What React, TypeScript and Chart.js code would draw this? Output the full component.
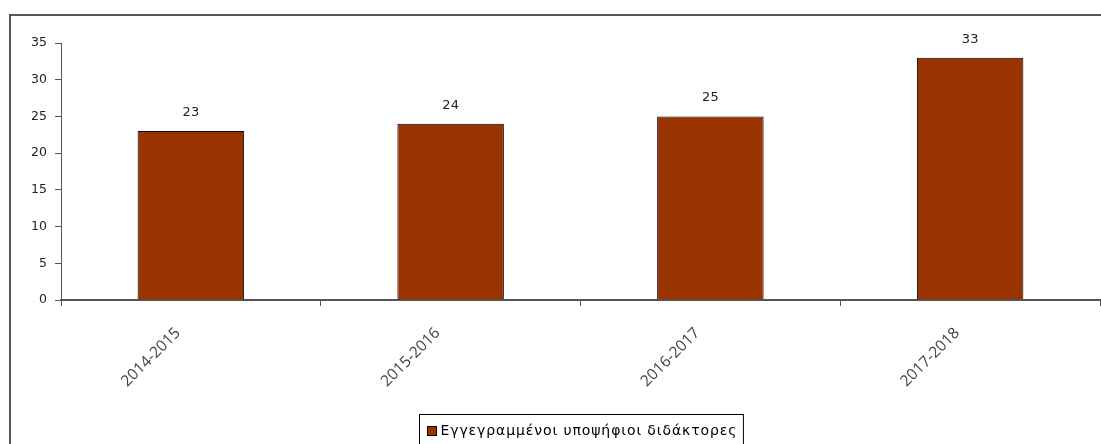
import React, { useEffect, useRef } from "react";
import { Chart, registerables } from "chart.js";

Chart.register(...registerables);

const categories = ["2014-2015", "2015-2016", "2016-2017", "2017-2018"];
const values = [23, 24, 25, 33];
const seriesName = "Εγγεγραμμένοι υποψήφιοι διδάκτορες";
const yMin = 0;
const yMax = 35;
const yStep = 5;

const BAR_COLOR = "#993300";
const AXIS_COLOR = "#555555";
const TEXT_COLOR = "#222222";
const FONT = "'DejaVu Sans', Verdana, sans-serif";

const framePlugin = {
  id: "frame",
  beforeDraw(chart: any) {
    const ctx = chart.ctx;
    ctx.save();
    ctx.fillStyle = "#ffffff";
    ctx.fillRect(0, 0, chart.width, chart.height);
    ctx.strokeStyle = "#555555";
    ctx.lineWidth = 2;
    ctx.strokeRect(10, 15, chart.width + 20, chart.height + 20);
    ctx.restore();
  },
};

const valueLabelPlugin = {
  id: "valueLabels",
  afterDatasetsDraw(chart: any) {
    const ctx = chart.ctx;
    const meta = chart.getDatasetMeta(0);
    ctx.save();
    ctx.fillStyle = TEXT_COLOR;
    ctx.font = `13px ${FONT}`;
    ctx.textAlign = "center";
    ctx.textBaseline = "bottom";
    meta.data.forEach((bar: any, i: number) => {
      ctx.fillText(String(values[i]), bar.x, bar.y - 12);
    });
    ctx.restore();
  },
};

const legendPlugin = {
  id: "customLegend",
  afterDraw(chart: any) {
    const ctx = chart.ctx;
    const area = chart.chartArea;
    ctx.save();
    ctx.font = `14px ${FONT}`;
    (ctx as any).letterSpacing = "0.9px";
    const tw = ctx.measureText(seriesName).width;
    const boxW = tw + 27;
    const cx = (area.left + area.right) / 2;
    const left = Math.round(cx - boxW / 2) + 0.5;
    const top = 414.5;
    ctx.strokeStyle = "#000000";
    ctx.lineWidth = 1;
    ctx.strokeRect(left, top, boxW, 40);
    ctx.fillStyle = BAR_COLOR;
    ctx.fillRect(left + 8, 426.5, 9, 9);
    ctx.strokeRect(left + 8, 426.5, 9, 9);
    ctx.fillStyle = "#000000";
    ctx.textBaseline = "middle";
    ctx.textAlign = "left";
    ctx.fillText(seriesName, left + 21, 431);
    ctx.restore();
  },
};

export default function App() {
  const ref = useRef<HTMLCanvasElement | null>(null);

  useEffect(() => {
    if (!ref.current) return;
    const chart = new Chart(ref.current, {
      type: "bar",
      data: {
        labels: categories,
        datasets: [
          {
            label: seriesName,
            data: values,
            backgroundColor: BAR_COLOR,
            borderColor: "#000000",
            borderWidth: 1,
            barPercentage: 0.41,
            categoryPercentage: 1,
          },
        ],
      },
      options: {
        animation: false,
        responsive: false,
        maintainAspectRatio: false,
        devicePixelRatio: 1,
        layout: { padding: { top: 43, right: 1, left: 0, bottom: 0 } },
        plugins: {
          legend: { display: false },
          tooltip: { enabled: false },
        },
        scales: {
          x: {
            offset: true,
            grid: {
              display: true,
              offset: true,
              drawOnChartArea: false,
              tickLength: 6,
              color: AXIS_COLOR,
            },
            border: { display: true, color: AXIS_COLOR, width: 2 },
            ticks: {
              autoSkip: false,
              minRotation: 45,
              maxRotation: 45,
              padding: 18,
              labelOffset: -13,
              color: "#444444",
              font: { family: "'Open Sans', 'Liberation Sans', sans-serif", size: 15.5 },
            },
            afterFit(scale: any) {
              scale.height = 144;
            },
          },
          y: {
            min: yMin,
            max: yMax,
            grid: {
              display: true,
              drawOnChartArea: false,
              tickLength: 6,
              color: AXIS_COLOR,
            },
            border: { display: true, color: AXIS_COLOR, width: 1 },
            ticks: {
              stepSize: yStep,
              padding: 8,
              color: TEXT_COLOR,
              font: { family: FONT, size: 12.5 },
            },
            afterFit(scale: any) {
              scale.width = 61;
            },
          },
        },
      },
      plugins: [framePlugin, valueLabelPlugin, legendPlugin],
    });
    return () => chart.destroy();
  }, []);

  return (
    <div style={{ position: "absolute", left: 0, top: 0, width: 1101, height: 444 }}>
      <canvas ref={ref} width={1101} height={444} style={{ width: 1101, height: 444, display: "block" }} />
    </div>
  );
}
